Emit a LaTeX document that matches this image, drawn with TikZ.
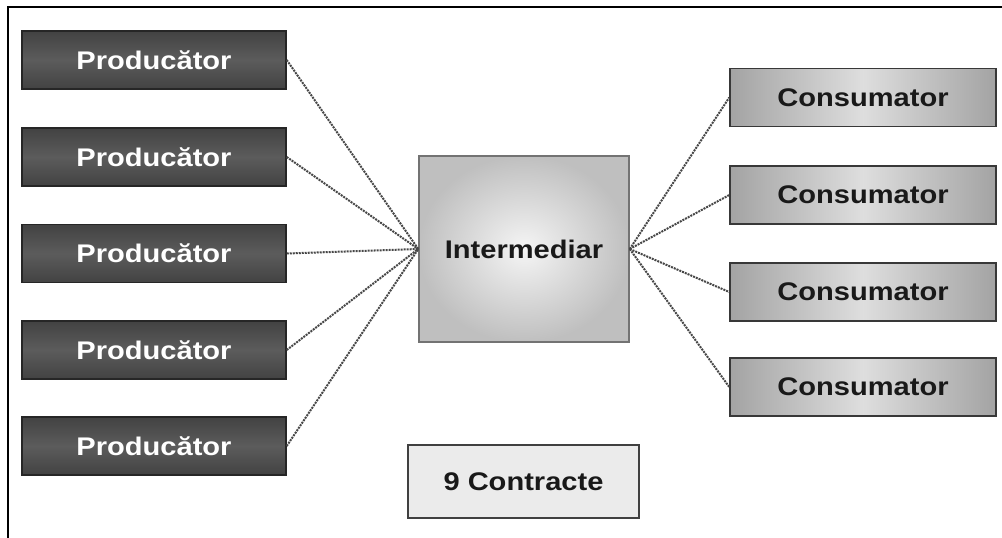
\documentclass[tikz,border=0pt]{standalone}
\usepackage{fontspec}
\setmainfont{Liberation Sans}[FakeStretch=1.14]
\usetikzlibrary{shapes}

\begin{document}
\begin{tikzpicture}[x=1pt, y=-1pt,
  prodbox/.style={draw=black!85, line width=1.5pt, inner sep=0pt,
    minimum width=264pt, minimum height=58pt,
    top color=black!74, bottom color=black!74, middle color=black!64,
    text=white, font=\fontsize{25.5}{28}\selectfont\bfseries},
  consbox/.style={draw=black!78, line width=1.5pt, inner sep=0pt,
    minimum width=266pt, minimum height=58pt,
    left color=black!36, right color=black!36, middle color=black!13,
    text=black!90, font=\fontsize{25.5}{28}\selectfont\bfseries},
  midbox/.style={draw=black!55, line width=1.5pt, inner sep=0pt,
    minimum width=210pt, minimum height=186pt,
    inner color=black!4, outer color=black!25,
    text=black!90, font=\fontsize{25.5}{28}\selectfont\bfseries},
  notebox/.style={draw=black!75, line width=1.5pt, fill=black!8, inner sep=0pt,
    minimum width=231pt, minimum height=73pt,
    text=black!90, font=\fontsize{25.5}{28}\selectfont\bfseries},
  link/.style={black!72, line width=2pt, densely dotted}]

  % page size and frame (left and top only)
  \useasboundingbox (0,0) rectangle (1002,538);
  \draw[black, line width=2.2pt] (8,538) -- (8,7) -- (1002,7);

  % Producers (left column)
  \node[prodbox] (prod1) at (154, 60)    {Producător};
  \node[prodbox] (prod2) at (154, 157)   {Producător};
  \node[prodbox] (prod3) at (154, 253.5) {Producător};
  \node[prodbox] (prod4) at (154, 350)   {Producător};
  \node[prodbox] (prod5) at (154, 446)   {Producător};

  % Middleman
  \node[midbox] (inter) at (524, 249) {Intermediar};

  % Consumers (right column)
  \node[consbox] (cons1) at (863, 97.5) {Consumator};
  \node[consbox] (cons2) at (863, 195)  {Consumator};
  \node[consbox] (cons3) at (863, 292)  {Consumator};
  \node[consbox] (cons4) at (863, 387)  {Consumator};

  % Contract count
  \node[notebox] (contracts) at (523.5, 481.5) {9 Contracte};

  % Dotted links producer -> middleman
  \draw[link] (prod1.east) -- (inter.west);
  \draw[link] (prod2.east) -- (inter.west);
  \draw[link] (prod3.east) -- (inter.west);
  \draw[link] (prod4.east) -- (inter.west);
  \draw[link] (prod5.east) -- (inter.west);

  % Dotted links middleman -> consumer
  \draw[link] (inter.east) -- (cons1.west);
  \draw[link] (inter.east) -- (cons2.west);
  \draw[link] (inter.east) -- (cons3.west);
  \draw[link] (inter.east) -- (cons4.west);

\end{tikzpicture}
\end{document}
